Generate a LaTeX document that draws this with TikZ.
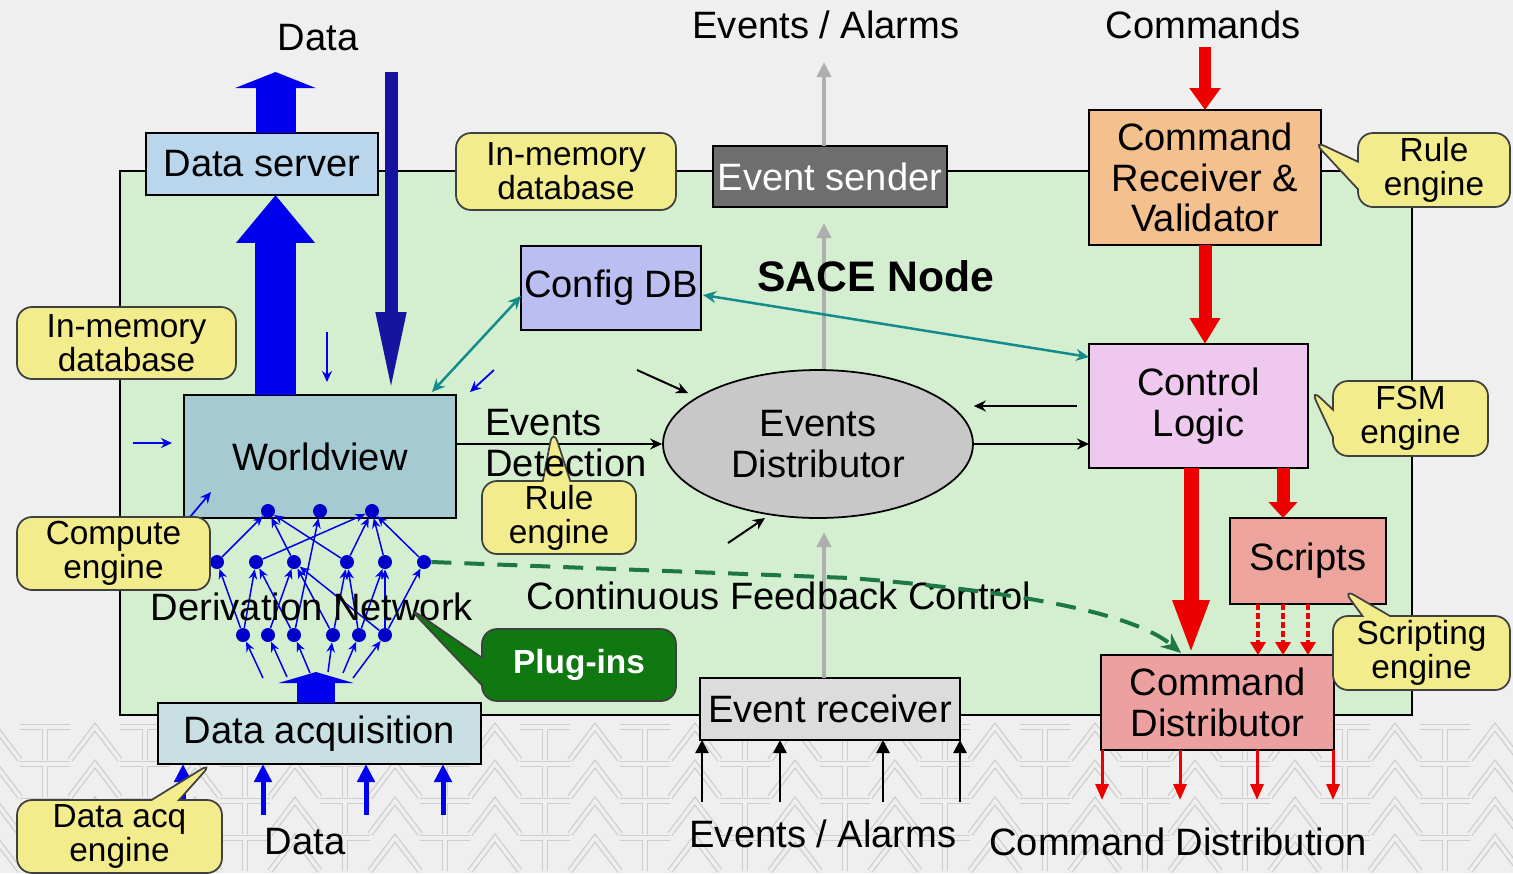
\documentclass[tikz,border=0pt]{standalone}
\usepackage{fontspec}
\setmainfont{Liberation Sans}
\usetikzlibrary{shapes.geometric,shapes.callouts,arrows.meta,calc}

\definecolor{bggray}{RGB}{239,239,239}
\definecolor{nodegreen}{RGB}{212,238,208}
\definecolor{dsblue}{RGB}{186,214,236}
\definecolor{wvblue}{RGB}{166,202,210}
\definecolor{cfgblue}{RGB}{186,190,240}
\definecolor{sendgray}{RGB}{110,110,110}
\definecolor{ellgray}{RGB}{200,200,200}
\definecolor{crvorange}{RGB}{244,192,142}
\definecolor{clpink}{RGB}{238,200,238}
\definecolor{scrsalmon}{RGB}{236,164,156}
\definecolor{cdred}{RGB}{236,160,160}
\definecolor{daqblue}{RGB}{200,224,228}
\definecolor{ergray}{RGB}{220,220,220}
\definecolor{cally}{RGB}{242,236,140}
\definecolor{plugreen}{RGB}{16,120,16}
\definecolor{arrblue}{RGB}{0,0,238}
\definecolor{navyblue}{RGB}{20,20,160}
\definecolor{tealc}{RGB}{20,140,140}
\definecolor{redc}{RGB}{238,0,0}
\definecolor{fbgreen}{RGB}{30,120,70}
\definecolor{linegray}{RGB}{175,175,175}
\definecolor{patgray}{RGB}{205,205,205}

\newcommand\mainsz{\fontsize{21.7}{23.2}\selectfont}
\newcommand\callsz{\fontsize{19}{19.4}\selectfont}

\tikzset{
  box/.style={draw=black, line width=1.1pt, rectangle, inner sep=0pt, outer sep=0pt, align=center, font=\mainsz},
  call/.style={draw=black!75, line width=1pt, fill=cally, rounded corners=0.3cm, inner sep=0pt, outer sep=0pt, align=center, font=\callsz},
  ptr/.style={rectangle callout, callout pointer width=0.55cm},
  lbl/.style={font=\mainsz, inner sep=0pt},
  dot/.style={circle, fill=arrblue!85!black, minimum size=0.28cm, inner sep=0pt},
  net/.style={draw=arrblue, line width=0.03cm, -{Stealth[length=0.2cm,width=0.17cm]}},
  thinblue/.style={draw=arrblue, line width=0.035cm, -{Stealth[length=0.22cm,width=0.2cm]}},
  thinblack/.style={draw=black, line width=0.04cm, -{Stealth[length=0.24cm,width=0.22cm]}},
  teal/.style={draw=tealc, line width=0.05cm, {Stealth[length=0.26cm,width=0.24cm]}-{Stealth[length=0.26cm,width=0.24cm]}},
  grayline/.style={draw=linegray, line width=0.09cm, -{Triangle[length=0.3cm,width=0.28cm]}},
  pat/.style={draw=patgray, line width=0.025cm, double=bggray, double distance=0.07cm},
}

\begin{document}
\begin{tikzpicture}[x=0.02cm,y=-0.02cm]
\useasboundingbox (0,0) rectangle (1513,873);
\fill[bggray] (0,0) rectangle (1513,873);

% background letter pattern
\begin{scope}
\clip (0,720) rectangle (1513,873);
\foreach \r in {727,764,801,838} {
  \foreach \k in {0,...,15} {
    \pgfmathsetmacro\xa{\k*100-30}
    \draw[pat] (\xa,\r+33) -- (\xa+25,\r) -- (\xa+50,\r+33);
    \draw[pat] (\xa+50,\r) -- (\xa+100,\r) (\xa+75,\r) -- (\xa+75,\r+33);
  }
}
\end{scope}

% SACE node area
\draw[fill=nodegreen, line width=1.1pt] (120,171) rectangle (1412,715);

\coordinate (gx) at (824,0);
\coordinate (xb) at (275.5,0);
\coordinate (xn) at (391,0);
\coordinate (xd) at (316,0);

% nodes
\node[box, fill=dsblue, minimum width=4.64cm, minimum height=1.24cm] (ds) at (262,164) {Data server};
\node[box, fill=wvblue, minimum width=5.44cm, minimum height=2.46cm] (wv) at (320,456.5) {Worldview};
\node[box, fill=cfgblue, minimum width=3.6cm, minimum height=1.68cm] (cfg) at (611,288) {Config DB};
\node[box, fill=sendgray, text=white, minimum width=4.68cm, minimum height=1.22cm] (es) at (830,176.5) {Event sender};
\node[box, fill=crvorange, minimum width=4.64cm, minimum height=2.7cm] (crv) at (1205,177.5) {Command\\Receiver \&\\Validator};
\node[box, fill=clpink, minimum width=4.38cm, minimum height=2.48cm] (cl) at (1198.5,406) {Control\\Logic};
\node[box, fill=scrsalmon, minimum width=3.12cm, minimum height=1.72cm] (scr) at (1308,561) {Scripts};
\node[box, fill=daqblue, minimum width=6.46cm, minimum height=1.22cm] (daq) at (319.5,733.5) {Data acquisition};

% gray event line
\coordinate (topev) at (824,62);
\draw[grayline] (es.north -| gx) -- (topev);
\node[box, fill=ergray, minimum width=5.2cm, minimum height=1.24cm] (er) at (830,709) {Event receiver};
\draw[grayline] (er.north -| gx) -- (824,532);
\node[ellipse, draw=black, line width=1pt, fill=ellgray, minimum width=6.2cm, minimum height=2.96cm, inner sep=0pt, align=center, font=\mainsz] (ell) at (818,444) {Events\\Distributor};
\draw[grayline] (ell.north -| gx) -- ($(es.south -| gx)+(0,16)$);
\node[box, fill=cdred, minimum width=4.66cm, minimum height=1.9cm] (cd) at (1217.5,702.5) {Command\\Distributor};

% big blue arrows
\draw[draw=arrblue, line width=0.82cm, -{Triangle[length=0.96cm,width=1.52cm]}] (wv.north -| xb) -- (ds.south -| xb);
\coordinate (dstop) at (275.5,72);
\draw[draw=arrblue, line width=0.8cm, -{Triangle[length=0.32cm,width=1.6cm]}] (ds.north -| xb) -- (dstop);
\coordinate (navtop) at (391,72);
\draw[draw=navyblue, line width=0.26cm, -{Triangle[length=1.66cm,width=0.54cm]}] (navtop) -- (wv.north -| xn);
\coordinate (daqtip) at (316,672);
\draw[draw=arrblue, line width=0.76cm, -{Triangle[length=0.22cm,width=1.5cm]}] (daq.north -| xd) -- (daqtip);

% small blue arrows
\coordinate (sb1a) at (327,332); \coordinate (sb1b) at (327,382);
\coordinate (sb2a) at (133,443); \coordinate (sb2b) at (172,443);
\coordinate (sb3a) at (190,517); \coordinate (sb3b) at (211,492);
\coordinate (sb4a) at (494,370); \coordinate (sb4b) at (470,392);
\draw[thinblue] (sb1a) -- (sb1b);
\draw[thinblue] (sb2a) -- (sb2b);
\draw[thinblue] (sb3a) -- (sb3b);
\draw[thinblue] (sb4a) -- (sb4b);

% teal arrows
\draw[teal] ($(wv.north east)+(-24,-3)$) -- ($(cfg.west)+(0,8)$);
\draw[teal] ($(cfg.east)+(2,7)$) -- ($(cl.north west)+(0,13)$);

% black arrows
\draw[thinblack] (wv.east |- ell.west) -- (ell.west);
\coordinate (bk1a) at (637,370); \coordinate (bk1b) at (688,393);
\coordinate (bk2a) at (728,543); \coordinate (bk2b) at (765,518);
\draw[thinblack] (bk1a) -- (bk1b);
\draw[thinblack] (bk2a) -- (bk2b);
\draw[thinblack] ($(cl.west)+(-12,0)$) -- ($(ell.east)+(0,-38)$);
\draw[thinblack] (ell.east) -- (ell.east -| cl.west);

% red arrows
\coordinate (cmdtop) at (1205,47);
\coordinate (xr1) at (1205,0);
\coordinate (xr2) at (1191,0);
\coordinate (xr3) at (1283,0);
\draw[draw=redc, line width=0.24cm, -{Triangle[length=0.44cm,width=0.6cm]}] (cmdtop) -- (crv.north -| xr1);
\draw[draw=redc, line width=0.26cm, -{Triangle[length=0.52cm,width=0.58cm]}] (crv.south -| xr1) -- (cl.north -| xr1);
\draw[draw=redc, line width=0.3cm, -{Triangle[length=1.1cm,width=0.66cm]}] (cl.south -| xr2) -- (cd.north -| xr2);
\draw[draw=redc, line width=0.26cm, -{Triangle[length=0.32cm,width=0.56cm]}] (cl.south -| xr3) -- (scr.north -| xr3);
\foreach \xx in {1258,1283,1308} {
  \coordinate (sx) at (\xx,0);
  \draw[draw=redc, line width=0.08cm, dash pattern=on 0.12cm off 0.06cm, -{Triangle[length=0.26cm,width=0.3cm]}] (scr.south -| sx) -- (cd.north -| sx);
}
\foreach \xx in {1102,1180,1257,1333} {
  \coordinate (ox) at (\xx,800);
  \draw[draw=redc, line width=0.06cm, -{Triangle[length=0.32cm,width=0.26cm]}] (cd.south -| ox) -- (ox);
}

% inputs to data acquisition and event receiver
\foreach \xx in {183,263,366,443} {
  \coordinate (ix) at (\xx,815);
  \draw[draw=arrblue, line width=0.1cm, -{Triangle[length=0.36cm,width=0.34cm]}] (ix) -- (daq.south -| ix);
}
\foreach \xx in {702,780,883,960} {
  \coordinate (jx) at (\xx,802);
  \draw[draw=black, line width=0.05cm, -{Triangle[length=0.26cm,width=0.26cm]}] (jx) -- (er.south -| jx);
}

% derivation network
\node[dot] (t1) at (268,511) {};
\node[dot] (t2) at (320,511) {};
\node[dot] (t3) at (372,511) {};
\node[dot] (m1) at (217,562) {};
\node[dot] (m2) at (256,562) {};
\node[dot] (m3) at (294,562) {};
\node[dot] (m4) at (347,562) {};
\node[dot] (m5) at (385,562) {};
\node[dot] (m6) at (424,562) {};
\node[dot] (b1) at (243,635) {};
\node[dot] (b2) at (268,635) {};
\node[dot] (b3) at (294,635) {};
\node[dot] (b4) at (333,635) {};
\node[dot] (b5) at (359,635) {};
\node[dot] (b6) at (385,635) {};
\foreach \a/\b in {m1/t1,m3/t1,m4/t1,b3/t2,m2/t3,m4/t3,m5/t3,m6/t3,
                   b1/m1,b1/m2,b3/m2,b2/m3,b4/m3,b6/m3,b4/m4,b5/m4,b5/m5,b6/m5,b6/m6}
  \draw[net] (\a) -- (\b);
\coordinate (f1) at (263,678); \coordinate (f2) at (287,677); \coordinate (f3) at (310,673);
\coordinate (f4) at (328,672); \coordinate (f5) at (343,673); \coordinate (f6) at (353,678);
\draw[net] (f1) -- (b1);
\draw[net] (f2) -- (b2);
\draw[net] (f3) -- (b3);
\draw[net] (f4) -- (b4);
\draw[net] (f5) -- (b5);
\draw[net] (f6) -- (b6);

% text labels
\node[lbl] (ldata) at (318,38) {Data};
\node[lbl] (levt) at (826,25) {Events / Alarms};
\node[lbl] (lcmd) at (1203,25) {Commands};
\node[font=\fontsize{24.3}{26}\selectfont\bfseries, inner sep=0pt] (sace) at (876,276) {SACE Node};
\node[lbl] (dernet) at (312,607) {Derivation Network};
\node[lbl] (cfc) at (779,596) {Continuous Feedback Control};
\node[lbl] (ldata2) at (305,842) {Data};
\node[lbl] (levt2) at (823,834) {Events / Alarms};
\node[lbl] (lcd) at (1178,842) {Command Distribution};

% feedback dashed arrow
\draw[draw=fbgreen, line width=0.08cm, dash pattern=on 0.4cm off 0.26cm, -{Stealth[length=0.4cm,width=0.34cm]}]
  (m6.east) -- (850,578) .. controls (1000,590) and (1130,610) .. ($(cd.north west)+(80,-2)$);

% callouts
\node[call, minimum width=4.38cm, minimum height=1.44cm] (imdb1) at (126.5,343) {In-memory\\database};
\node[call, minimum width=4.4cm, minimum height=1.54cm] (imdb2) at (566,171.5) {In-memory\\database};
\node[call, minimum width=3.86cm, minimum height=1.46cm] (comp) at (113.5,553.5) {Compute\\engine};
\coordinate (p1) at (1312,140);
\node[call, ptr, callout absolute pointer={(p1)}, minimum width=3.04cm, minimum height=1.48cm] (rule1) at (1434,170) {Rule\\engine};
\coordinate (p2) at (1310,388);
\node[call, ptr, callout absolute pointer={(p2)}, minimum width=3.1cm, minimum height=1.5cm] (fsm) at (1410.5,418.5) {FSM\\engine};
\coordinate (p3) at (553,428);
\node[call, ptr, callout absolute pointer={(p3)}, minimum width=3.08cm, minimum height=1.46cm] (rule2) at (559,517.5) {Rule\\engine};
\coordinate (p4) at (1342,588);
\node[call, ptr, callout absolute pointer={(p4)}, minimum width=3.54cm, minimum height=1.48cm] (screng) at (1421.5,653) {Scripting\\engine};
\coordinate (p5) at (213,762);
\node[call, ptr, callout absolute pointer={(p5)}, minimum width=4.1cm, minimum height=1.46cm] (daqeng) at (119.5,836.5) {Data acq\\engine};
\coordinate (p6) at (408,607);
\node[call, ptr, fill=plugreen, text=white, callout absolute pointer={(p6)}, minimum width=3.88cm, minimum height=1.44cm, font=\fontsize{19}{20}\selectfont\bfseries] (plug) at (579,665) {Plug-ins};

% label drawn over the callout pointer
\node[lbl, anchor=west, align=left] (evdet) at (485,443) {Events\\Detection};
\end{tikzpicture}
\end{document}
